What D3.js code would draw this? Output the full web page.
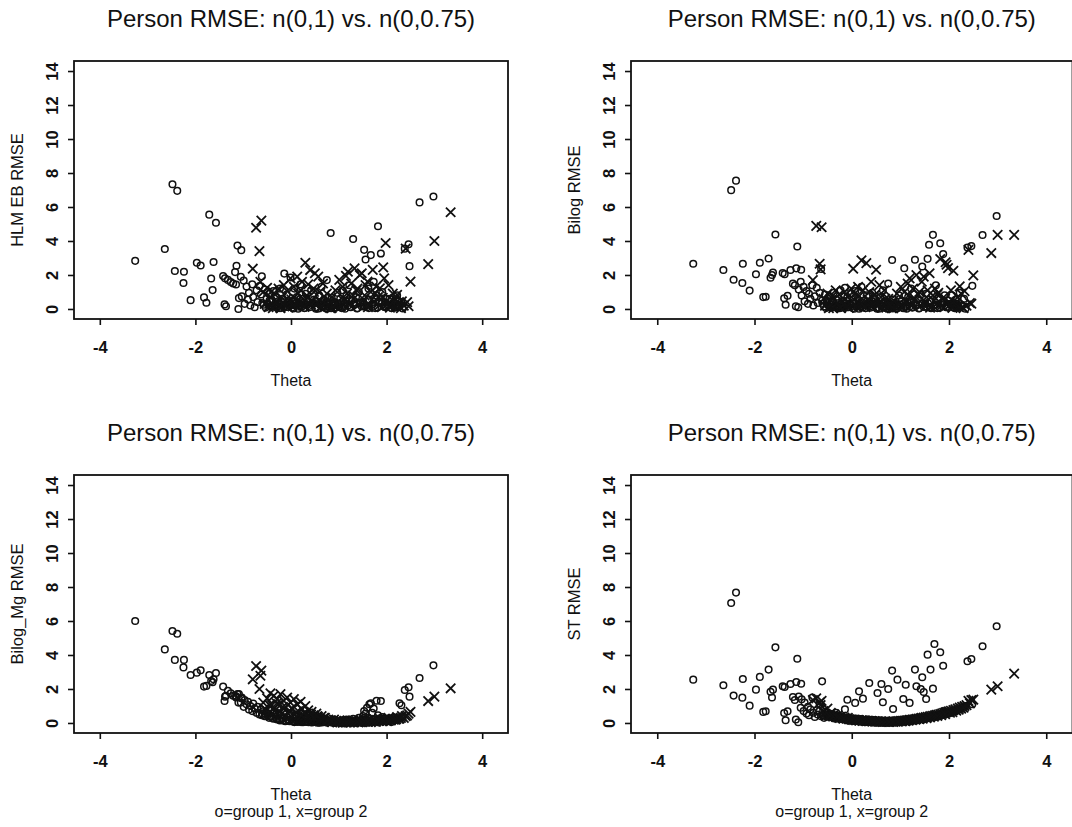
<!DOCTYPE html>
<html>
<head>
<meta charset="utf-8">
<script src="https://cdn.jsdelivr.net/npm/d3@7"></script>
<style>
  body { margin: 0; background: #fff; }
  svg text { font-family: "Liberation Sans", Arial, sans-serif; fill: #111; }
</style>
</head>
<body>
<svg id="chart" width="1072" height="827"></svg>
<script>
// ── Data ────────────────────────────────────────────────────────────────────
// theta of every person (same persons in all four panels), group 1 = o, group 2 = x
const theta1 = [
  -3.26, -2.64, -2.48, -2.38, -2.43, -2.24, -2.25, -2.10, -1.97, -1.89,
  -1.82, -1.77, -1.71, -1.57, -1.62, -1.67, -1.64, -1.42, -1.38, -1.32,
  -1.26, -1.21, -1.15, -1.39, -1.36, -1.12, -1.04, -1.14, -1.17, -1.10,
  -1.09, -1.05, -1.03, -0.99, -0.97, -0.93, -0.90, -0.88, -0.85, -0.81,
  -0.79, -0.76, -0.72, -0.70, -0.66, -0.63, -0.61, -0.57, -0.55, -0.51,
  -0.48, -0.46, -0.43, -0.41, -0.37, -0.35, -0.32, -0.29, -0.27, -0.23,
  -0.21, -0.18, -0.14, -0.12, -0.09, -0.07, -0.04, -0.01,
  0.02, 0.04, 0.07, 0.09, 0.12, 0.15, 0.17, 0.20, 0.23, 0.25,
  0.28, 0.31, 0.34, 0.36, 0.39, 0.42, 0.45, 0.48,
  0.51, 0.53, 0.56, 0.59, 0.61, 0.64, 0.67, 0.69, 0.72, 0.75,
  0.77, 0.80, 0.83, 0.85, 0.88, 0.91, 0.94, 0.97,
  1.01, 1.03, 1.06, 1.08, 1.11, 1.13, 1.16, 1.19, 1.22, 1.25,
  1.27, 1.30, 1.33, 1.36, 1.39, 1.42, 1.45, 1.48,
  1.51, 1.53, 1.56, 1.59, 1.62, 1.64, 1.67, 1.70, 1.73, 1.76,
  1.79, 1.82, 1.85, 1.88, 1.91, 1.94, 1.98,
  2.02, 2.06, 2.10, 2.14, 2.18, 2.22, 2.27, 2.31,
  2.38, 2.46, 2.48, 2.69, 2.98,
  -0.60, -0.53, -0.45, -0.39, -0.31, -0.25, -0.16, -0.10, -0.03, 0.05,
  0.13, 0.21, 0.29, 0.37, 0.44, 0.52, 0.60, 0.68, 0.76, 0.84,
  0.92, 0.99, 1.07, 1.15, 1.23, 1.31, 1.38, 1.46, 1.55, 1.63,
  1.72, 1.81, 1.90, 1.97, 2.04, 2.11, 2.16, 2.20, 2.25, 2.34
];
const theta2 = [
  -0.80, -0.73, -0.66, -0.62, -0.64, 3.34, 3.00, 2.87, 2.50, 2.40, 2.46, 1.98, 1.93,
  -0.58, -0.55, -0.50, -0.47, -0.43, -0.40, -0.36, -0.33, -0.29, -0.26,
  -0.22, -0.19, -0.15, -0.11, -0.08, -0.04, -0.01,
  0.03, 0.06, 0.10, 0.13, 0.16, 0.20, 0.23, 0.27, 0.30, 0.33,
  0.36, 0.40, 0.43, 0.47, 0.50, 0.53, 0.57, 0.60, 0.64, 0.67, 0.71, 0.75, 0.78,
  0.82, 0.86, 0.90, 0.93, 0.97, 1.01, 1.04, 1.08, 1.12, 1.15,
  1.19, 1.22, 1.26, 1.30, 1.33, 1.37, 1.41, 1.44, 1.48, 1.52, 1.56,
  1.60, 1.63, 1.67, 1.71, 1.74, 1.78, 1.82, 1.86, 1.90, 1.95,
  2.00, 2.04, 2.09, 2.13, 2.18, 2.22, 2.27, 2.32, 2.36,
  -0.45, -0.38, -0.30, -0.24, -0.17, -0.06, 0.01, 0.08, 0.15, 0.22,
  0.28, 0.35, 0.42, 0.48, 0.55, 0.62, 0.69, 0.77, 0.85, 0.95,
  1.03, 1.10, 1.17, 1.24, 1.31, 1.39, 1.46, 1.54, 1.61, 1.69,
  1.76, 1.84, 1.92, 2.02, 2.07, 2.15, 2.20, 2.25, 2.30, 2.43
];

// RMSE per person, one array per panel and group
const hlmG1 = [
  2.83, 3.53, 7.34, 6.95, 2.23, 2.19, 1.53, 0.52, 2.72, 2.56,
  0.68, 0.37, 5.55, 5.07, 2.76, 1.79, 1.11, 1.94, 1.81, 1.71,
  1.59, 1.50, 1.44, 0.27, 0.16, 3.73, 3.46, 2.54, 2.17, 0.00,
  0.64, 1.90, 0.74, 1.67, 0.30, 1.32, 0.55, 0.95, 0.20, 1.45,
  0.70, 0.10, 1.10, 0.40, 1.35, 0.85, 1.92, 0.25, 1.15, 0.60,
  0.30, 0.90, 0.15, 0.55, 1.05, 0.20, 0.70, 0.10, 0.45, 1.20,
  0.05, 0.60, 2.08, 0.25, 0.85, 0.12, 0.40, 1.85,
  0.08, 0.50, 1.20, 0.20, 0.70, 0.02, 0.35, 1.45, 0.15, 0.60,
  0.05, 0.90, 0.25, 0.40, 0.10, 1.10, 0.30, 0.55,
  0.10, 0.45, 0.02, 0.80, 0.25, 1.30, 0.15, 0.55, 0.05, 1.70,
  0.30, 0.12, 4.47, 0.65, 0.20, 0.40, 0.08, 0.95,
  0.15, 0.60, 0.05, 1.10, 0.30, 0.02, 0.80, 0.20, 1.40, 0.10,
  0.50, 4.12, 0.25, 0.70, 0.05, 1.00, 0.35, 0.15,
  0.40, 3.48, 2.91, 0.10, 1.20, 0.55, 3.17, 0.25, 1.60, 0.05,
  0.80, 4.87, 0.35, 3.26, 1.00, 0.15, 0.60,
  0.20, 0.60, 0.05, 0.35, 0.10, 0.80, 0.15, 0.40,
  3.55, 3.81, 2.52, 6.27, 6.62,
  0.35, 0.08, 0.50, 0.15, 0.25, 0.05, 0.40, 0.12, 0.30, 0.03,
  0.22, 0.45, 0.06, 0.18, 0.35, 0.02, 0.28, 0.10, 0.42, 0.04,
  0.20, 0.33, 0.07, 0.48, 0.12, 0.25, 0.03, 0.38, 0.15, 0.05,
  0.30, 0.08, 0.45, 0.12, 0.25, 0.05, 0.35, 0.10, 0.20, 0.03
];
const hlmG2 = [
  2.37, 4.78, 3.40, 5.20, 1.60, 5.69, 4.00, 2.64, 1.61, 3.55, 0.16, 3.88, 2.45,
  1.00, 0.30, 1.25, 0.10, 0.70, 1.05, 0.20, 0.85, 0.45, 1.20,
  0.05, 0.65, 1.40, 0.25, 1.05, 0.50, 1.80,
  0.15, 1.30, 0.60, 1.90, 0.35, 1.10, 1.60, 0.20, 2.72, 0.80,
  1.45, 2.29, 0.50, 1.20, 2.10, 0.25, 1.90, 1.00, 0.40, 1.50, 0.10, 0.90, 0.30,
  0.05, 0.70, 0.20, 1.10, 0.40, 1.71, 0.15, 1.30, 0.60, 1.95,
  2.19, 0.35, 1.50, 0.80, 2.39, 1.10, 0.25, 2.00, 2.10, 0.55, 1.40,
  1.61, 0.20, 1.00, 2.30, 0.40, 1.32, 0.70, 1.22, 0.10, 1.80,
  0.50, 1.40, 0.25, 0.90, 0.60, 0.83, 0.15, 0.45, 0.20,
  0.20, 0.05, 0.45, 0.15, 0.30, 0.08, 0.55, 0.20, 0.90, 0.35,
  0.12, 0.65, 0.25, 1.00, 0.40, 0.10, 0.70, 0.20, 0.05, 0.30,
  0.15, 0.50, 0.90, 0.25, 0.60, 1.20, 0.35, 0.80, 0.10, 0.55,
  0.95, 0.20, 0.65, 0.30, 0.08, 0.45, 0.15, 0.35, 0.05, 0.40
];
const bilogG1 = [
  2.66, 2.29, 6.99, 7.55, 1.72, 2.66, 1.53, 1.08, 2.04, 2.72,
  0.70, 0.72, 2.97, 4.38, 2.15, 1.84, 2.00, 2.11, 2.05, 0.78,
  2.29, 1.49, 0.16, 0.63, 0.25, 3.68, 2.31, 2.39, 1.40, 0.10,
  1.15, 1.60, 0.80, 1.30, 0.45, 1.05, 0.30, 0.90, 0.60, 1.40,
  0.20, 0.75, 1.25, 0.35, 0.95, 2.35, 0.50, 0.15, 0.85, 0.40,
  0.20, 0.75, 0.10, 0.45, 0.95, 0.15, 0.55, 0.05, 0.35, 1.10,
  0.08, 0.50, 1.25, 0.20, 0.70, 0.10, 0.30, 0.90,
  0.05, 0.40, 1.05, 0.15, 0.60, 0.02, 0.30, 1.30, 0.10, 0.50,
  0.05, 0.80, 0.20, 0.35, 0.08, 0.95, 0.25, 0.45,
  0.08, 0.35, 0.02, 0.70, 0.20, 1.10, 0.10, 0.45, 0.04, 1.50,
  0.25, 0.10, 2.88, 0.55, 0.15, 0.35, 0.05, 0.80,
  0.12, 0.50, 0.04, 2.40, 0.25, 0.02, 0.70, 0.15, 1.20, 0.08,
  0.40, 2.90, 0.20, 0.60, 0.05, 0.85, 2.50, 0.12,
  0.30, 0.90, 2.95, 3.78, 0.10, 0.45, 4.36, 0.20, 1.40, 0.05,
  0.70, 3.87, 0.25, 3.23, 0.80, 0.10, 0.50,
  0.30, 0.80, 0.10, 0.55, 0.15, 0.95, 0.20, 0.60,
  3.62, 3.70, 1.36, 4.35, 5.47,
  0.30, 0.05, 0.45, 0.12, 0.20, 0.04, 0.35, 0.10, 0.25, 0.02,
  0.18, 0.40, 0.05, 0.15, 0.30, 0.02, 0.22, 0.08, 0.38, 0.03,
  0.17, 0.28, 0.06, 0.42, 0.10, 0.22, 0.03, 0.33, 0.12, 0.04,
  0.26, 0.07, 0.40, 0.10, 0.22, 0.05, 0.30, 0.08, 0.18, 0.02
];
const bilogG2 = [
  1.70, 4.89, 2.66, 4.81, 2.33, 4.36, 4.36, 3.29, 1.98, 3.48, 0.31, 2.40, 2.75,
  0.60, 0.20, 0.90, 0.05, 0.50, 0.75, 0.15, 1.10, 0.35, 0.85,
  0.05, 0.45, 1.00, 0.20, 0.70, 0.30, 1.20,
  2.37, 0.90, 0.40, 1.30, 0.25, 2.86, 1.10, 0.15, 2.70, 0.55,
  1.00, 1.60, 0.35, 0.80, 2.31, 0.20, 1.40, 0.70, 0.25, 1.10, 0.08, 0.60, 0.20,
  0.05, 0.50, 0.15, 0.90, 0.30, 1.30, 0.10, 1.00, 0.45, 1.50,
  1.80, 0.25, 1.20, 0.60, 2.00, 0.85, 0.20, 1.60, 1.90, 0.40, 1.10,
  2.10, 0.15, 0.80, 1.20, 0.30, 0.95, 2.94, 0.60, 0.10, 2.60,
  0.40, 1.10, 2.25, 0.20, 0.70, 1.33, 0.10, 1.05, 0.20,
  0.15, 0.05, 0.35, 0.10, 0.25, 0.06, 0.45, 0.15, 0.75, 0.30,
  0.10, 0.55, 0.20, 0.85, 0.35, 0.08, 0.60, 0.15, 0.04, 0.25,
  0.12, 0.45, 0.80, 0.20, 0.50, 1.00, 0.30, 0.70, 0.08, 0.50,
  0.85, 0.18, 0.60, 0.25, 0.06, 0.40, 0.12, 0.90, 0.05, 0.35
];
const mgG1 = [
  6.00, 4.33, 5.41, 5.25, 3.71, 3.71, 3.27, 2.82, 2.96, 3.10,
  2.14, 2.18, 2.82, 2.94, 2.57, 2.47, 2.40, 2.14, 1.55, 1.90,
  1.75, 1.60, 1.50, 1.29, 1.60, 1.70, 1.45, 1.55, 1.60, 1.20,
  1.70, 1.20, 1.50, 0.95, 1.35, 1.10, 1.25, 0.80, 1.00, 0.70,
  1.15, 0.85, 0.60, 0.95, 0.50, 0.80, 0.45, 0.70, 0.40, 0.60,
  0.55, 0.30, 0.75, 0.40, 0.25, 0.60, 0.35, 0.20, 0.50, 0.15,
  0.45, 0.25, 0.65, 0.10, 0.35, 0.20, 0.15, 0.40,
  0.10, 0.30, 0.05, 0.45, 0.15, 0.20, 0.08, 0.35, 0.12, 0.04,
  0.25, 0.10, 0.06, 0.30, 0.15, 0.05, 0.20, 0.10,
  0.05, 0.15, 0.02, 0.10, 0.20, 0.04, 0.12, 0.06, 0.25, 0.03,
  0.10, 0.15, 0.05, 0.08, 0.18, 0.02, 0.10, 0.06,
  0.05, 0.10, 0.02, 0.15, 0.04, 0.08, 0.20, 0.03, 0.12, 0.06,
  0.10, 0.25, 0.05, 0.15, 0.08, 0.30, 0.10, 0.20,
  0.40, 0.70, 0.55, 0.90, 0.30, 1.10, 1.16, 0.60, 0.85, 0.20,
  1.31, 0.45, 0.15, 1.29, 0.35, 0.10, 0.25,
  0.10, 0.20, 0.05, 0.15, 0.30, 0.20, 1.16, 1.04,
  1.94, 2.10, 1.55, 2.65, 3.39,
  0.55, 0.42, 0.38, 0.30, 0.25, 0.20, 0.15, 0.12, 0.10, 0.08,
  0.06, 0.05, 0.07, 0.04, 0.03, 0.05, 0.02, 0.04, 0.03, 0.05,
  0.02, 0.04, 0.03, 0.06, 0.04, 0.07, 0.05, 0.08, 0.06, 0.10,
  0.08, 0.12, 0.10, 0.14, 0.12, 0.18, 0.15, 0.22, 0.25, 0.35
];
const mgG2 = [
  2.57, 3.35, 2.00, 3.08, 2.78, 2.04, 1.55, 1.29, 0.65, 0.40, 0.55, 0.25, 0.20,
  1.20, 0.85, 1.45, 0.60, 1.75, 1.05, 1.60, 0.75, 1.40, 1.10,
  1.70, 0.55, 1.30, 0.95, 1.50, 0.70, 1.20,
  0.85, 1.40, 0.60, 1.10, 0.45, 1.25, 0.80, 0.35, 1.00, 0.55,
  0.75, 0.30, 0.65, 0.45, 0.25, 0.55, 0.35, 0.20, 0.40, 0.15, 0.30, 0.10, 0.20,
  0.15, 0.05, 0.20, 0.10, 0.03, 0.15, 0.08, 0.02, 0.12, 0.05,
  0.10, 0.03, 0.08, 0.15, 0.05, 0.10, 0.04, 0.12, 0.06, 0.15, 0.08,
  0.10, 0.18, 0.05, 0.12, 0.20, 0.08, 0.15, 0.25, 0.10, 0.20,
  0.12, 0.30, 0.15, 0.25, 0.20, 0.35, 0.25, 0.40, 0.30,
  1.05, 0.80, 1.15, 0.65, 0.95, 0.55, 0.85, 0.50, 0.70, 0.45,
  0.60, 0.35, 0.50, 0.30, 0.40, 0.22, 0.30, 0.15, 0.10, 0.06,
  0.04, 0.05, 0.03, 0.06, 0.04, 0.07, 0.05, 0.08, 0.06, 0.10,
  0.08, 0.12, 0.10, 0.14, 0.16, 0.20, 0.22, 0.26, 0.30, 0.45
];
const stG1 = [
  2.55, 2.22, 7.06, 7.67, 1.61, 2.59, 1.49, 1.02, 1.96, 2.71,
  0.65, 0.69, 3.14, 4.45, 1.96, 1.84, 1.50, 2.16, 2.12, 0.69,
  2.29, 1.53, 0.20, 0.59, 0.16, 3.78, 2.31, 2.41, 1.35, 0.04,
  1.55, 0.90, 1.40, 0.70, 1.20, 0.55, 0.95, 0.45, 0.80, 1.50,
  0.60, 0.35, 0.75, 0.50, 1.10, 0.40, 2.45, 0.30, 0.65, 0.45,
  0.40, 0.55, 0.35, 0.50, 0.30, 0.45, 0.60, 0.28, 0.40, 0.25,
  0.35, 0.22, 0.80, 0.20, 1.37, 0.18, 0.30, 0.22,
  0.20, 0.15, 1.18, 0.25, 0.18, 1.86, 0.12, 0.22, 1.43, 0.16,
  0.10, 0.20, 0.14, 2.35, 0.12, 0.18, 0.10, 0.15,
  0.10, 1.76, 0.08, 0.12, 2.29, 1.22, 0.06, 0.10, 0.05, 2.00,
  0.08, 0.04, 3.08, 0.82, 0.06, 0.10, 2.55, 0.05,
  0.15, 0.12, 1.41, 0.18, 2.25, 0.14, 0.20, 1.18, 0.16, 0.22,
  0.18, 3.14, 2.16, 0.20, 0.25, 2.00, 2.69, 1.82,
  0.28, 1.41, 4.02, 0.30, 3.14, 0.35, 2.02, 4.65, 0.38, 0.42,
  0.40, 4.16, 0.45, 3.37, 0.50, 0.52, 0.58,
  0.62, 0.68, 0.70, 0.75, 0.80, 0.85, 0.92, 0.98,
  3.63, 3.76, 1.10, 4.51, 5.69,
  0.45, 0.40, 0.36, 0.33, 0.29, 0.26, 0.22, 0.20, 0.18, 0.15,
  0.13, 0.12, 0.10, 0.09, 0.08, 0.07, 0.06, 0.05, 0.05, 0.06,
  0.07, 0.09, 0.11, 0.13, 0.15, 0.18, 0.21, 0.25, 0.30, 0.34,
  0.38, 0.44, 0.50, 0.56, 0.62, 0.68, 0.74, 0.80, 0.88, 1.00
];
const stG2 = [
  1.35, 1.45, 1.20, 1.30, 1.05, 2.90, 2.16, 1.96, 1.37, 1.30, 1.35, 0.65, 0.62,
  0.70, 0.55, 0.85, 0.45, 0.60, 0.40, 0.50, 0.35, 0.45, 0.30,
  0.38, 0.28, 0.32, 0.25, 0.30, 0.22, 0.20,
  0.18, 0.20, 0.16, 0.18, 0.14, 0.16, 0.12, 0.15, 0.11, 0.13,
  0.10, 0.12, 0.09, 0.11, 0.08, 0.10, 0.07, 0.09, 0.06, 0.08, 0.07, 0.06, 0.08,
  0.07, 0.09, 0.08, 0.10, 0.11, 0.12, 0.13, 0.14, 0.15, 0.16,
  0.18, 0.19, 0.21, 0.22, 0.24, 0.26, 0.28, 0.30, 0.32, 0.34, 0.36,
  0.38, 0.40, 0.42, 0.45, 0.48, 0.50, 0.53, 0.56, 0.60, 0.64,
  0.68, 0.72, 0.76, 0.80, 0.85, 0.90, 0.95, 1.00, 1.05,
  0.42, 0.38, 0.33, 0.30, 0.26, 0.22, 0.19, 0.17, 0.15, 0.13,
  0.12, 0.10, 0.09, 0.09, 0.08, 0.07, 0.07, 0.06, 0.06, 0.07,
  0.09, 0.11, 0.13, 0.16, 0.19, 0.22, 0.25, 0.29, 0.33, 0.37,
  0.41, 0.46, 0.52, 0.60, 0.64, 0.72, 0.78, 0.84, 0.90, 1.15
];

const xTicks = [-4, -2, 0, 2, 4];
const yTicks = [0, 2, 4, 6, 8, 10, 12, 14];
const titleText = 'Person RMSE: n(0,1) vs. n(0,0.75)';

const panels = [
  { ylab: 'HLM EB RMSE',   g1: hlmG1,   g2: hlmG2,   col: 0, row: 0, sub: false },
  { ylab: 'Bilog RMSE',    g1: bilogG1, g2: bilogG2, col: 1, row: 0, sub: false },
  { ylab: 'Bilog_Mg RMSE', g1: mgG1,    g2: mgG2,    col: 0, row: 1, sub: true },
  { ylab: 'ST RMSE',       g1: stG1,    g2: stG2,    col: 1, row: 1, sub: true },
];

// ── Layout ──────────────────────────────────────────────────────────────────
const svg = d3.select('#chart');
const cols = [{ x0: 74, x1: 508 }, { x0: 631, x1: 1072.5 }];
const rows = [{ y0: 61, y1: 319 }, { y0: 475, y1: 733 }];
const ink = '#111';
const font = '"Liberation Sans", Arial, sans-serif';

panels.forEach(p => {
  const c = cols[p.col], r = rows[p.row];
  const x = d3.scaleLinear().domain([-4.54, 4.54]).range([c.x0, c.x1]);
  const y = d3.scaleLinear().domain([-0.59, 14.59]).range([r.y1, r.y0]);
  const g = svg.append('g');

  // x axis
  g.append('g')
    .attr('transform', `translate(0,${r.y1})`)
    .call(d3.axisBottom(x).tickValues(xTicks).tickSize(6).tickPadding(16))
    .call(a => a.select('.domain').remove())
    .call(a => a.selectAll('line').attr('stroke', ink).attr('stroke-width', 1.6))
    .call(a => a.selectAll('text').attr('font-size', 16.5).attr('font-weight', 'bold')
      .attr('font-family', font).attr('fill', ink)
      .text(d => d < 0 ? '-' + Math.abs(d) : d));

  // y axis, labels parallel to the axis (R las=0)
  g.append('g')
    .attr('transform', `translate(${c.x0},0)`)
    .call(d3.axisLeft(y).tickValues(yTicks).tickSize(6))
    .call(a => a.select('.domain').remove())
    .call(a => a.selectAll('line').attr('stroke', ink).attr('stroke-width', 1.6))
    .call(a => a.selectAll('text')
      .attr('x', 0).attr('dy', 0)
      .attr('transform', 'translate(-16.5,0) rotate(-90)')
      .attr('text-anchor', 'middle')
      .attr('font-size', 16.5).attr('font-weight', 'bold')
      .attr('font-family', font).attr('fill', ink));

  // box
  g.append('rect')
    .attr('x', c.x0).attr('y', r.y0)
    .attr('width', c.x1 - c.x0).attr('height', r.y1 - r.y0)
    .attr('fill', 'none').attr('stroke', ink).attr('stroke-width', 1.8);

  // titles
  const cx = (c.x0 + c.x1) / 2;
  g.append('text').attr('x', cx).attr('y', r.y0 - 34)
    .attr('text-anchor', 'middle').attr('font-size', 24).text(titleText);
  g.append('text').attr('x', cx).attr('y', r.y1 + 67)
    .attr('text-anchor', 'middle').attr('font-size', 16).text('Theta');
  if (p.sub) {
    g.append('text').attr('x', cx).attr('y', r.y1 + 84)
      .attr('text-anchor', 'middle').attr('font-size', 16)
      .text('o=group 1, x=group 2');
  }
  g.append('text')
    .attr('transform', `translate(${c.x0 - 51},${(r.y0 + r.y1) / 2}) rotate(-90)`)
    .attr('text-anchor', 'middle').attr('font-size', 16.5)
    .text(p.ylab);

  // points
  const pts1 = theta1.map((t, i) => [t, p.g1[i]]).filter(d => d[1] != null);
  const pts2 = theta2.map((t, i) => [t, p.g2[i]]).filter(d => d[1] != null);

  g.append('g').selectAll('circle')
    .data(pts1).join('circle')
    .attr('cx', d => x(d[0])).attr('cy', d => y(d[1])).attr('r', 3.3)
    .attr('fill', 'none').attr('stroke', ink).attr('stroke-width', 1.5);

  g.append('g').selectAll('path')
    .data(pts2).join('path')
    .attr('transform', d => `translate(${x(d[0])},${y(d[1])})`)
    .attr('d', 'M-4.7,-4.7L4.7,4.7M-4.7,4.7L4.7,-4.7')
    .attr('fill', 'none').attr('stroke', ink).attr('stroke-width', 1.8);
});
</script>
</body>
</html>
